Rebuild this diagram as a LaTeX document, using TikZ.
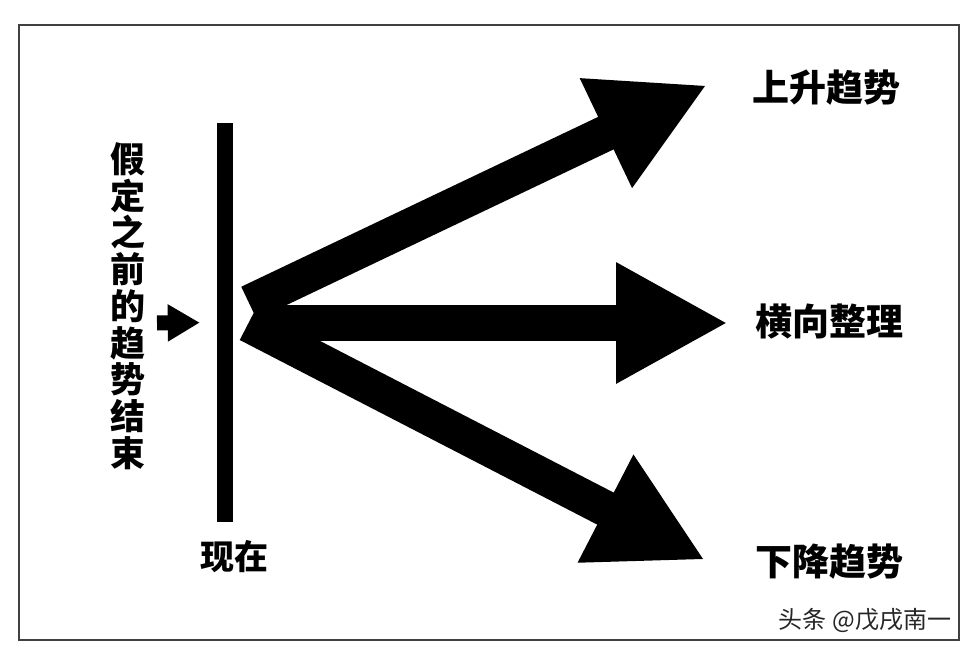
\documentclass[tikz,border=0pt]{standalone}
\usepackage{fontspec}
\setmainfont{Noto Sans CJK SC}
\usepackage{tikz}
\usetikzlibrary{arrows.meta}
\usetikzlibrary{positioning}

\begin{document}
\begin{tikzpicture}[x=1pt, y=-1pt,
    trend/.style={line width=36pt, -{Triangle[length=112pt, width=113pt]}},
    trendtext/.style={font=\fontsize{37}{38}\selectfont\bfseries, inner sep=0pt},
  ]
    \useasboundingbox (0, 0) rectangle (974, 652);
    \draw[line width=2pt, black!75] (19, 25) rectangle (959, 640);
    \node[fill=black, minimum width=16pt, minimum height=399pt, inner sep=0pt] at (225, 322.5) (now) {};
    \node[trendtext, font=\fontsize{34}{36}\selectfont\bfseries] at (234, 557) (nowtext) {现在};
    \node[trendtext, align=center, font=\fontsize{35}{36.75}\selectfont\bfseries] at (128, 306) (before) {假\\定\\之\\前\\的\\趋\\势\\结\\束};
    \coordinate (push) at (157, 323);
    \draw[line width=15pt, -{Triangle[length=32pt, width=35pt]}, shorten >=17pt] (push) -- (now.west);
    \coordinate (fromUp) at (249, 303);
    \coordinate (toUp) at (707, 85);
    \coordinate (fromSide) at (262, 323);
    \coordinate (toSide) at (728, 323);
    \coordinate (fromDown) at (248, 324);
    \coordinate (toDown) at (705, 560);
    \draw[trend] (fromUp) -- (toUp);
    \draw[trend] (fromSide) -- (toSide);
    \draw[trend] (fromDown) -- (toDown);
    \node[trendtext] at (826, 88) (up) {上升趋势};
    \node[trendtext] at (829, 322) (side) {横向整理};
    \node[trendtext] at (829, 562) (down) {下降趋势};
    \node[font=\fontsize{24}{24}\selectfont, black!85, inner sep=0pt] at (865, 620) (credit) {头条 @戊戌南一};
\end{tikzpicture}
\end{document}
